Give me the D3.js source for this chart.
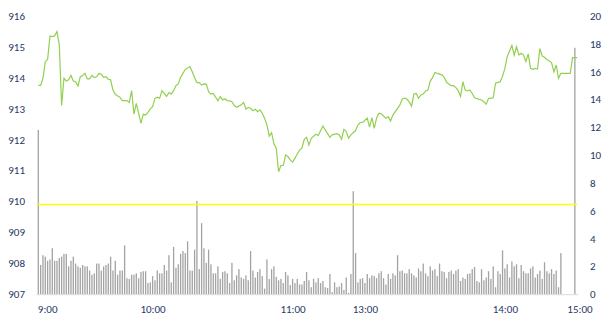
<!DOCTYPE html>
<html>
<head>
<meta charset="utf-8">
<script src="https://cdn.jsdelivr.net/npm/d3@7"></script>
<style>
body { margin: 0; background: #fff; }
text { font-family: Calibri, Carlito, "Liberation Sans", Arial, sans-serif; font-size: 11px; fill: #1f3864; }
</style>
</head>
<body>
<div id="chart"></div>
<script>
// minute index of each price reading, and the price there
var priceMin = [0,1,2,3,4,5,6,7,8,9,10,11,12,13,14,15,16,17,18,19,20,21,22,23,24,25,26,27,28,29,30,31,32,33,34,35,36,38,39,40,
  41,42,43,44,45,46,47,48,49,50,51,52,53,54,55,56,57,58,59,60,61,62,63,65,66,67,68,69,70,71,72,73,74,75,76,77,78,79,80,
  81,82,83,84,85,86,87,88,89,90,91,92,93,94,95,96,97,98,99,100,101,102,103,104,105,106,107,108,109,110,111,112,113,114,115,116,117,119,120,
  122,123,125,126,128,129,130,131,132,133,134,136,137,138,139,141,142,143,144,145,146,147,149,150,151,152,154,155,156,157,158,159,160,
  161,162,163,164,165,166,167,168,169,170,171,173,174,175,177,178,179,180,181,182,183,184,185,186,187,189,190,191,192,193,194,195,196,198,199,200,
  201,203,204,205,206,207,208,209,210,211,212,213,214,215,216,217,218,219,220,221,222,223,224,228,229,231];
var priceVal = [913.75,913.75,913.98,914.52,914.59,915.35,915.33,915.35,915.49,915.06,913.10,913.98,913.89,913.93,914.07,913.89,913.86,913.73,914.03,914.07,
  914.14,913.96,913.96,914.07,914.00,914.03,914.14,914.11,914.01,914.03,913.95,913.93,913.60,913.46,913.41,913.37,913.26,913.26,913.20,913.58,
  912.82,913.17,912.85,912.52,912.82,912.79,912.88,912.99,913.06,913.33,913.37,913.33,913.58,913.49,913.39,913.52,913.47,913.58,913.74,913.80,
  914.01,914.14,914.27,914.36,914.19,914.00,913.84,913.84,913.76,913.80,913.79,913.55,913.47,913.49,913.37,913.25,913.39,913.28,913.32,
  913.26,913.25,913.22,913.10,913.04,913.08,913.12,913.20,912.98,913.04,913.01,912.93,912.98,912.90,912.96,912.85,912.69,912.47,912.11,912.22,
  911.86,911.72,910.96,911.16,911.16,911.50,911.45,911.34,911.27,911.39,911.53,911.66,911.72,912.01,912.07,911.82,912.04,912.17,912.13,
  912.44,912.31,912.07,912.15,912.19,912.15,912.01,912.33,912.26,912.04,912.15,912.29,912.47,912.55,912.55,912.69,912.40,912.71,912.36,912.69,
  912.85,912.83,912.69,912.74,912.60,912.79,913.01,913.12,913.31,913.34,913.31,913.22,913.08,
  913.47,913.49,913.33,913.44,913.47,913.57,913.60,913.89,914.00,914.17,914.14,914.09,914.01,913.85,913.74,913.74,913.68,913.58,913.39,913.87,
  913.60,913.57,913.60,913.49,913.35,913.30,913.28,913.22,913.14,913.33,913.33,913.35,913.82,913.87,914.05,914.30,
  914.68,915.04,914.73,915.00,914.73,914.79,914.73,914.52,914.77,914.30,914.27,914.30,914.28,914.94,914.70,914.66,914.59,914.54,914.49,914.19,
  914.41,913.98,914.14,914.14,914.65,914.65];

// volume per minute (right axis), null where nothing traded
var volume = [11.8,2.1,2.8,2.7,2.4,2.5,3.3,2.4,2.4,2.6,2.7,2.9,2.9,2.0,2.4,2.7,2.2,2.0,1.9,2.1,
  2.0,2.0,1.7,1.4,1.5,2.2,2.2,1.7,2.0,2.1,2.2,2.7,1.7,2.4,1.4,1.7,1.7,3.5,1.15,1.1,
  1.4,1.4,1.5,1.15,1.6,1.65,1.65,0.8,0.85,1.3,1.0,1.7,1.5,1.5,2.1,1.7,2.8,0.85,3.4,1.9,
  2.15,2.9,3.1,2.95,3.8,1.7,1.7,3.2,6.7,1.8,5.1,3.3,2.25,3.2,2.15,1.5,1.5,2.0,1.1,1.6,
  1.65,1.5,0.8,2.25,1.0,1.35,1.8,1.2,1.1,1.35,1.0,3.1,1.7,1.2,1.6,1.8,1.3,0.4,2.5,1.1,
  1.8,2.0,1.25,1.0,1.1,0.8,1.6,1.35,0.65,1.1,0.8,1.1,0.7,0.7,0.95,1.6,1.0,0.5,1.1,0.85,
  1.15,0.8,0.95,0.5,0.45,1.45,0.15,0.85,0.5,0.55,0.8,0.3,1.2,0.1,1.45,7.4,2.95,0.85,1.1,1.15,
  0.8,1.45,1.15,1.35,1.3,1.15,1.5,1.65,1.15,0.7,1.45,1.1,1.5,1.35,2.8,1.65,1.7,1.5,1.5,1.8,
  1.5,1.35,1.2,1.85,1.65,2.2,1.5,1.3,2.0,1.7,1.8,1.3,2.2,1.65,1.6,1.15,1.6,1.7,1.45,1.7,
  1.8,0.95,1.2,1.1,1.45,1.5,1.8,1.95,0.95,0.85,1.8,1.0,1.2,1.65,1.1,2.0,0.5,1.65,1.45,3.15,
  1.85,2.15,1.2,2.35,2.0,2.15,1.15,2.1,1.65,1.5,1.5,1.85,2.0,1.2,1.45,1.7,1.1,2.3,1.65,1.5,
  1.8,1.45,1.7,0.5,2.95,null,null,null,null,null,17.7];

var refLevel = 909.9;
var leftTicks = [907,908,909,910,911,912,913,914,915,916];
var rightTicks = [0,2,4,6,8,10,12,14,16,18,20];
var timeLabels = ["9:00","10:00","11:00","13:00","14:00","15:00"];
var timeLabelMin = [0,44,104,135,195,227];

var w = 613;
var h = 330;

var svg = d3.select("#chart").append("svg")
  .attr("width", w)
  .attr("height", h);

var x = d3.scaleLinear().domain([0, 231]).range([38.3, 577.2]);
var yPrice = d3.scaleLinear().domain([907, 916]).range([294.2, 15.8]);
var yVol = d3.scaleLinear().domain([0, 20]).range([294.2, 15.8]);

// volume bars
var bars = volume.map(function(v, i){ return {i: i, v: v}; })
  .filter(function(d){ return d.v != null; });

svg.selectAll("rect.vol")
  .data(bars)
  .enter()
  .append("rect")
  .attr("class", "vol")
  .attr("x", function(d){ return x(d.i) - 0.65; })
  .attr("width", 1.3)
  .attr("y", function(d){ return yVol(d.v); })
  .attr("height", function(d){ return yVol(0) - yVol(d.v); })
  .attr("fill", "#a3a3a3");

// bottom line
svg.append("line")
  .attr("x1", x(0) - 2).attr("x2", x(231) + 1)
  .attr("y1", yVol(0) + 0.5).attr("y2", yVol(0) + 0.5)
  .attr("stroke", "#d9d9d9");

// yellow level
svg.append("line")
  .attr("x1", x(0) - 1.5).attr("x2", x(231))
  .attr("y1", yPrice(refLevel)).attr("y2", yPrice(refLevel))
  .attr("stroke", "#ffff00")
  .attr("stroke-width", 1.6);

// price line
var pts = priceMin.map(function(m, i){ return [m, priceVal[i]]; });
var line = d3.line()
  .x(function(d){ return x(d[0]); })
  .y(function(d){ return yPrice(d[1]); });

svg.append("path")
  .datum(pts)
  .attr("d", line)
  .attr("fill", "none")
  .attr("stroke", "#92d050")
  .attr("stroke-width", 1.2);

// axes
var leftAxis = svg.append("g")
  .attr("transform", "translate(25,0)")
  .call(d3.axisLeft(yPrice).tickValues(leftTicks).tickSize(0).tickPadding(0).tickFormat(d3.format("d")));

var rightAxis = svg.append("g")
  .attr("transform", "translate(590,0)")
  .call(d3.axisRight(yVol).tickValues(rightTicks).tickSize(0).tickPadding(0));

var timeAxis = svg.append("g")
  .attr("transform", "translate(0,305.5)")
  .call(d3.axisBottom(x).tickValues(timeLabelMin).tickSize(0).tickPadding(0)
    .tickFormat(function(d, i){ return timeLabels[i]; }));
timeAxis.selectAll("text").attr("text-anchor", "start").attr("dx", -1);

svg.selectAll(".domain").remove();
</script>
</body>
</html>
